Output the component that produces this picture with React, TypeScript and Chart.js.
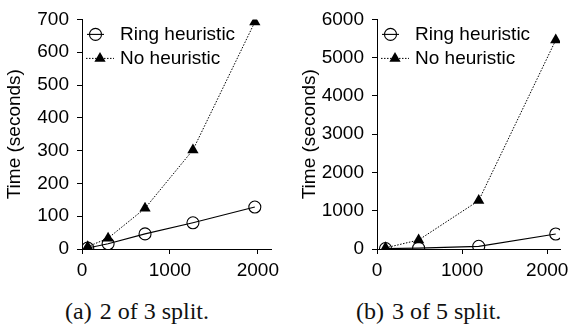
import React, { useEffect, useRef } from "react";
import { Chart, registerables } from "chart.js";

Chart.register(...registerables);

const seriesNames = ["Ring heuristic", "No heuristic"];
const yTitle = "Time (seconds)";

// (a) 2 of 3 split
const sizesA = [65, 297, 717, 1262, 1966];
const ringA = [3, 16, 46, 80, 128];
const noneA = [7, 33, 124, 302, 692];
const yTicksA = [0, 100, 200, 300, 400, 500, 600, 700];

// (b) 3 of 5 split
const sizesB = [100, 489, 1195, 2100];
const ringB = [12, 22, 70, 392];
const noneB = [30, 235, 1265, 5460];
const yTicksB = [0, 1000, 2000, 3000, 4000, 5000, 6000];

const xTicks = [0, 1000, 2000];
const xMax = 2150;

const captionTags = ["(a)", "(b)"];
const captionTexts = ["2 of 3 split.", "3 of 5 split."];

const FONT = "'Liberation Sans', Arial, Helvetica, sans-serif";

function drawTriangle(ctx: CanvasRenderingContext2D, x: number, y: number, r: number) {
  ctx.beginPath();
  ctx.moveTo(x, y - r);
  ctx.lineTo(x + 0.866 * r, y + 0.5 * r);
  ctx.lineTo(x - 0.866 * r, y + 0.5 * r);
  ctx.closePath();
  ctx.fill();
}

const legendPlugin = {
  id: "lineLegend",
  afterDraw(chart: any) {
    const ctx: CanvasRenderingContext2D = chart.ctx;
    const L = chart.chartArea.left;
    const T = chart.chartArea.top;
    const y1 = T + 15;
    const y2 = T + 39;
    ctx.save();
    ctx.strokeStyle = "#000";
    ctx.fillStyle = "#000";
    ctx.lineWidth = 1.1;
    ctx.beginPath();
    ctx.moveTo(L + 5, y1);
    ctx.lineTo(L + 22, y1);
    ctx.stroke();
    ctx.beginPath();
    ctx.arc(L + 13.5, y1, 6, 0, Math.PI * 2);
    ctx.stroke();
    ctx.lineWidth = 1;
    ctx.setLineDash([1.5, 1.5]);
    ctx.beginPath();
    ctx.moveTo(L + 4, y2);
    ctx.lineTo(L + 32, y2);
    ctx.stroke();
    ctx.setLineDash([]);
    drawTriangle(ctx, L + 18, y2, 6.5);
    ctx.font = `19px ${FONT}`;
    ctx.textBaseline = "middle";
    ctx.textAlign = "left";
    ctx.fillText(seriesNames[0], L + 38, y1);
    ctx.fillText(seriesNames[1], L + 38, y2);
    ctx.restore();
  },
};

type PanelProps = {
  sizes: number[];
  ring: number[];
  none: number[];
  yTicks: number[];
  yAxisWidth: number;
  rightPad: number;
  titlePad: number;
};

function Panel({ sizes, ring, none, yTicks, yAxisWidth, rightPad, titlePad }: PanelProps) {
  const ref = useRef<HTMLCanvasElement | null>(null);
  useEffect(() => {
    if (!ref.current) return;
    const chart = new Chart(ref.current, {
      type: "line",
      data: {
        datasets: [
          {
            label: seriesNames[0],
            data: sizes.map((x, i) => ({ x, y: ring[i] })),
            borderColor: "#000",
            borderWidth: 1.2,
            pointStyle: "circle",
            pointRadius: 6,
            pointBorderWidth: 1.1,
            pointBorderColor: "#000",
            pointBackgroundColor: "rgba(0,0,0,0)",
            tension: 0,
          },
          {
            label: seriesNames[1],
            data: sizes.map((x, i) => ({ x, y: none[i] })),
            borderColor: "#000",
            borderWidth: 1,
            borderDash: [1.5, 1.5],
            pointStyle: "triangle",
            pointRadius: 6.5,
            pointBorderWidth: 0,
            pointBorderColor: "#000",
            pointBackgroundColor: "#000",
            tension: 0,
          },
        ],
      },
      options: {
        animation: false,
        responsive: false,
        devicePixelRatio: 1,
        layout: { padding: { top: 14, right: rightPad, left: 0, bottom: 0 } },
        plugins: { legend: { display: false }, tooltip: { enabled: false } },
        scales: {
          x: {
            type: "linear",
            min: 0,
            max: xMax,
            afterBuildTicks: (s: any) => {
              s.ticks = xTicks.map((v) => ({ value: v }));
            },
            afterFit: (s: any) => {
              s.height = 33;
            },
            border: { display: true, color: "#000", width: 1 },
            grid: { display: true, drawOnChartArea: false, drawTicks: true, tickLength: 5, color: "#000" },
            ticks: {
              maxRotation: 0,
              autoSkip: false,
              padding: 5,
              color: "#000",
              font: { family: FONT, size: 19 },
              callback: (v: any) => String(v),
            },
          },
          y: {
            type: "linear",
            min: 0,
            max: yTicks[yTicks.length - 1],
            afterBuildTicks: (s: any) => {
              s.ticks = yTicks.map((v) => ({ value: v }));
            },
            afterFit: (s: any) => {
              s.width = yAxisWidth;
            },
            border: { display: true, color: "#000", width: 1 },
            grid: { display: true, drawOnChartArea: false, drawTicks: true, tickLength: 5, color: "#000" },
            ticks: {
              padding: 8,
              autoSkip: false,
              color: "#000",
              font: { family: FONT, size: 19 },
              callback: (v: any) => String(v),
            },
            title: {
              display: true,
              text: yTitle,
              color: "#000",
              font: { family: FONT, size: 19 },
              padding: { top: titlePad, bottom: 0 },
            },
          },
        },
      },
      plugins: [legendPlugin],
    } as any);
    return () => chart.destroy();
  }, []);
  return <canvas ref={ref} width={287} height={282} style={{ width: 287, height: 282, display: "block" }} />;
}

const captionStyle: React.CSSProperties = {
  position: "absolute",
  top: 297,
  font: "24px 'Liberation Serif', 'Times New Roman', serif",
  color: "#111",
  whiteSpace: "pre",
  lineHeight: "28px",
};

export default function App() {
  return (
    <div style={{ position: "fixed", left: 0, top: 0, width: 574, height: 328, background: "#fff", overflow: "hidden" }}>
      <div style={{ position: "absolute", left: 0, top: 0 }}>
        <Panel sizes={sizesA} ring={ringA} none={noneA} yTicks={yTicksA} yAxisWidth={82} rightPad={16} titlePad={3} />
      </div>
      <div style={{ position: "absolute", left: 287, top: 0 }}>
        <Panel sizes={sizesB} ring={ringB} none={noneB} yTicks={yTicksB} yAxisWidth={90} rightPad={9} titlePad={11} />
      </div>
      <div style={{ ...captionStyle, left: 65 }}>
        <span>{captionTags[0]}</span>
        <span style={{ marginLeft: 8 }}>{captionTexts[0]}</span>
      </div>
      <div style={{ ...captionStyle, left: 356 }}>
        <span>{captionTags[1]}</span>
        <span style={{ marginLeft: 8 }}>{captionTexts[1]}</span>
      </div>
    </div>
  );
}
